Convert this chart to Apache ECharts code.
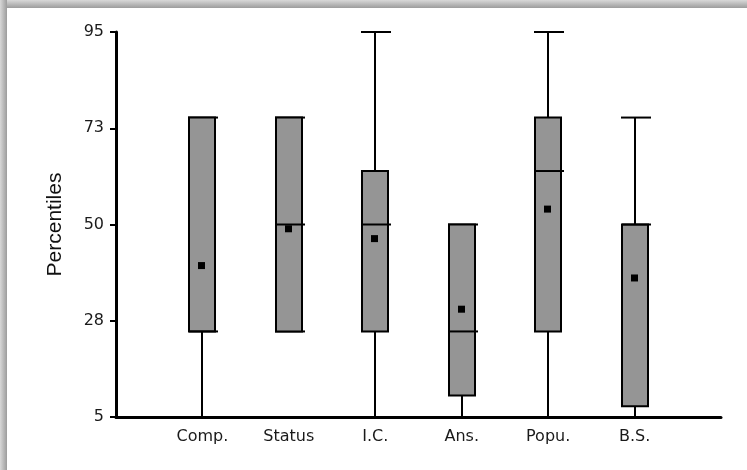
<!DOCTYPE html>
<html><head><meta charset="utf-8">
<script src="https://cdn.jsdelivr.net/npm/echarts@6/dist/echarts.min.js"></script>
<style>
html,body{margin:0;padding:0;background:#fff;}
#wrap{position:relative;width:747px;height:470px;overflow:hidden;background:#fff;}
#top{position:absolute;left:0;top:0;width:747px;height:8px;background:linear-gradient(to bottom,#d8d8d8,#9c9c9c);}
#left{position:absolute;left:0;top:0;width:7px;height:470px;background:linear-gradient(to right,#d8d8d8,#9c9c9c);}
#chart{position:absolute;left:0;top:0;width:747px;height:470px;}
</style></head>
<body><div id="wrap"><div id="top"></div><div id="left"></div><div id="chart"></div></div>
<script>
const categories = ['Comp.', 'Status', 'I.C.', 'Ans.', 'Popu.', 'B.S.'];
const minValues = [5, 25, 5, 5, 5, 5];
const q1Values = [25, 25, 25, 10, 25, 7.5];
const medianValues = [25, 50, 50, 25, 62.5, 50];
const q3Values = [75, 75, 62.5, 50, 75, 50];
const maxValues = [75, 75, 95, 50, 95, 75];
const meanValues = [40.4, 49, 46.7, 30.2, 53.6, 37.5];
const yTicks = [5, 27.5, 50, 72.5, 95];

const xData = [''].concat(categories, ['']);
const boxData = categories.map((c, k) => [k + 1, minValues[k], q1Values[k], medianValues[k], q3Values[k], maxValues[k], meanValues[k]]);

const chart = echarts.init(document.getElementById('chart'), null, {renderer: 'canvas'});
const FONT = 'DejaVu Sans';
chart.setOption({
  backgroundColor: 'transparent',
  animation: false,
  grid: {left: 116, right: 26, top: 32, bottom: 53, containLabel: false},
  xAxis: {
    type: 'category', data: xData, boundaryGap: false,
    axisLine: {lineStyle: {color: '#000', width: 3}},
    axisTick: {show: false},
    axisLabel: {color: '#1a1a1a', fontFamily: FONT, fontSize: 16, margin: 12, interval: 0},
    splitLine: {show: false}
  },
  yAxis: {
    type: 'value', min: yTicks[0], max: yTicks[yTicks.length - 1], interval: yTicks[1] - yTicks[0],
    name: 'Percentiles', nameLocation: 'middle', nameRotate: 90, nameGap: 50,
    nameTextStyle: {color: '#111', fontFamily: 'Liberation Sans', fontSize: 21},
    axisLine: {show: true, lineStyle: {color: '#000', width: 3}},
    axisTick: {show: true, length: 6, lineStyle: {color: '#000', width: 2}},
    axisLabel: {color: '#1a1a1a', fontFamily: FONT, fontSize: 16, margin: 12,
      padding: [0, 0, 9, 0], formatter: v => String(Math.round(v))},
    splitLine: {show: false}
  },
  series: [{
    type: 'custom',
    clip: false,
    data: boxData,
    encode: {x: 0, y: [1, 2, 3, 4, 5]},
    renderItem: function (params, api) {
      const i = api.value(0);
      const cx = Math.round(api.coord([i, 0])[0]);
      const y = v => api.coord([i, v])[1];
      const hw = 13;
      const stroke = {stroke: '#000', lineWidth: 2};
      const yMin = y(api.value(1)), yQ1 = y(api.value(2)), yMed = y(api.value(3)),
            yQ3 = y(api.value(4)), yMax = y(api.value(5)), yMean = y(api.value(6));
      return {
        type: 'group',
        children: [
          {type: 'line', shape: {x1: cx, y1: yMin, x2: cx, y2: yMax}, style: stroke},
          {type: 'line', shape: {x1: cx - hw - 1, y1: yMax, x2: cx + hw + 3, y2: yMax}, style: stroke},
          {type: 'line', shape: {x1: cx - hw - 1, y1: yMin, x2: cx + hw + 3, y2: yMin}, style: stroke},
          {type: 'rect', shape: {x: cx - hw, y: yQ3, width: 2 * hw, height: yQ1 - yQ3},
            style: {fill: '#959595', stroke: '#000', lineWidth: 2}},
          {type: 'line', shape: {x1: cx - hw, y1: yMed, x2: cx + hw + 3, y2: yMed}, style: stroke},
          {type: 'rect', shape: {x: cx - 4, y: yMean - 3.5, width: 7, height: 7}, style: {fill: '#000'}}
        ]
      };
    }
  }]
});
</script>
</body></html>
